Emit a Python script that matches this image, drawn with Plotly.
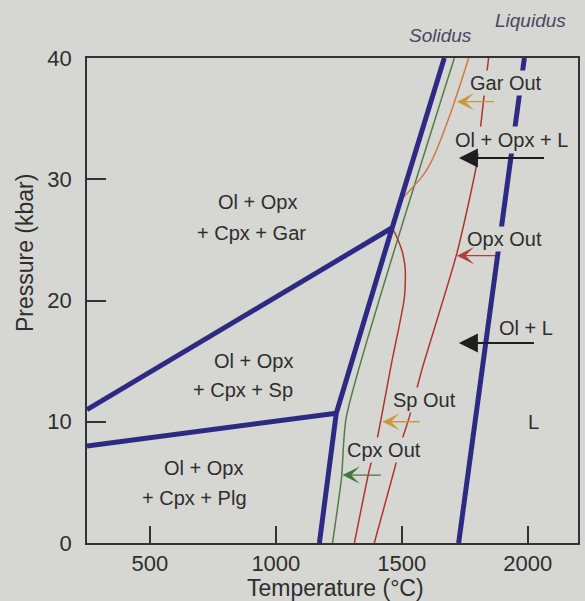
import plotly.graph_objects as go

# ---------------- data (Temperature °C, Pressure kbar) ----------------
solidus_T = [1173, 1240, 1462, 1669]
solidus_P = [0, 10.7, 26.0, 40]

gar_sp_T = [250, 1462]
gar_sp_P = [11.0, 26.0]

sp_plg_T = [250, 1240]
sp_plg_P = [8.0, 10.7]

liquidus_T = [1726, 1987]
liquidus_P = [0, 40]

cpx_out_T = [1225, 1261, 1280, 1709]
cpx_out_P = [0, 5.4, 10.4, 40]

gar_out_T = [1489, 1584, 1621, 1695, 1766]
gar_out_P = [28.1, 30.3, 31.6, 35.5, 40]

sp_out_T = [1462, 1481, 1501, 1513, 1513, 1509, 1489, 1462, 1399, 1371, 1312]
sp_out_P = [26.0, 25.2, 24.1, 22.8, 20.9, 20.0, 17.8, 15.1, 8.25, 6.0, 0]

opx_out_T = [1391, 1470, 1497, 1529, 1556, 1580, 1719, 1798, 1813, 1825, 1845]
opx_out_P = [0, 6.0, 8.25, 10.3, 12.4, 14.3, 23.9, 31.3, 34.3, 36.5, 40]

x_ticks = [500, 1000, 1500, 2000]
y_ticks = [0, 10, 20, 30, 40]

# field labels: text, T, P
field_text = ["Ol + Opx", "+ Cpx + Gar", "Ol + Opx", "+ Cpx + Sp", "Ol + Opx", "+ Cpx + Plg",
              "Ol + Opx + L", "Ol + L", "L"]
field_T = [926, 902, 910, 870, 712, 677, 1936, 1995, 2023]
field_P = [28.1, 25.6, 15.0, 12.6, 6.2, 3.7, 33.2, 17.7, 10.0]

# curve labels
curve_text = ["Gar Out", "Opx Out", "Sp Out", "Cpx Out"]
curve_T = [1916, 1908, 1592, 1428]
curve_P = [37.9, 25.1, 11.8, 7.7]

# boundary names above the frame: text, T, paper-y
boundary_text = ["<i>Solidus</i>", "<i>Liquidus</i>"]
boundary_T = [1655, 2011]
boundary_y = [1.047, 1.078]

# arrows: tip T, tail T, P, colour key
arrow_tip_T = [1719, 1727, 1719, 1727, 1423, 1265]
arrow_tail_T = [1873, 2071, 1877, 2031, 1577, 1423]
arrow_P = [36.4, 31.75, 23.7, 16.5, 10.0, 5.6]
arrow_kind = ["tan", "black", "red", "black", "tan", "green"]

BG = "#d6d6d3"
BLUE = "#2e2a84"
GREEN = "#4f7f46"
ORANGE = "#cf7a4a"
RED = "#b0352c"
TXT = "#2e2e2e"
FONT = "Liberation Sans, Arial, sans-serif"
arrow_colors = {"tan": "#c9983f", "black": "#1e1e1e", "red": "#b0403a", "green": "#3f7a3a"}

fig = go.Figure()

def add_line(T, P, color, width, shape="linear"):
    fig.add_trace(go.Scatter(x=T, y=P, mode="lines",
                             line=dict(color=color, width=width, shape=shape, smoothing=0.6),
                             hoverinfo="skip", showlegend=False))

add_line(cpx_out_T, cpx_out_P, GREEN, 1.5, "spline")
add_line(gar_out_T, gar_out_P, ORANGE, 1.5, "spline")
add_line(sp_out_T, sp_out_P, RED, 1.5, "spline")
add_line(opx_out_T, opx_out_P, RED, 1.5, "spline")
add_line(gar_sp_T, gar_sp_P, BLUE, 5)
add_line(sp_plg_T, sp_plg_P, BLUE, 5)
add_line(solidus_T, solidus_P, BLUE, 5)
add_line(liquidus_T, liquidus_P, BLUE, 5)

annotations = []
# curve labels (with background to break lines underneath)
for t, x, y in zip(curve_text, curve_T, curve_P):
    annotations.append(dict(x=x, y=y, xref="x", yref="y", text=t, showarrow=False,
                            font=dict(family=FONT, size=20, color=TXT),
                            bgcolor=BG, borderpad=1))
for t, x, y in zip(field_text, field_T, field_P):
    annotations.append(dict(x=x, y=y, xref="x", yref="y", text=t, showarrow=False,
                            font=dict(family=FONT, size=20, color=TXT),
                            bgcolor=BG if t == "Ol + Opx + L" else None, borderpad=2))
# arrows
for tip, tail, p, k in zip(arrow_tip_T, arrow_tail_T, arrow_P, arrow_kind):
    if k == "black":
        annotations.append(dict(x=tip, y=p, ax=tail, ay=p, xref="x", yref="y",
                                axref="x", ayref="y", text="", showarrow=True,
                                arrowhead=2, arrowsize=1.9, arrowwidth=2,
                                arrowcolor=arrow_colors[k], standoff=0))
    else:
        annotations.append(dict(x=tip, y=p, ax=tail, ay=p, xref="x", yref="y",
                                axref="x", ayref="y", text="", showarrow=True,
                                arrowhead=3, arrowsize=2.2, arrowwidth=1.3,
                                arrowcolor=arrow_colors[k], standoff=0))
# Solidus / Liquidus labels above the frame
for t, x, y in zip(boundary_text, boundary_T, boundary_y):
    annotations.append(dict(x=x, y=y, xref="x", yref="paper", text=t, showarrow=False,
                            xanchor="center", yanchor="middle",
                            font=dict(family=FONT, size=19, color="#4a4860")))
# axis titles
annotations.append(dict(x=-0.126, y=0.598, xref="paper", yref="paper", text="Pressure (kbar)",
                        textangle=-90, showarrow=False, xanchor="center", yanchor="middle",
                        font=dict(family=FONT, size=23, color=TXT)))
annotations.append(dict(x=0.507, y=-0.093, xref="paper", yref="paper", text="Temperature (°C)",
                        showarrow=False, xanchor="center", yanchor="middle",
                        font=dict(family=FONT, size=23, color=TXT)))

fig.update_layout(
    width=585, height=601,
    margin=dict(l=87, r=5, t=58, b=58),
    paper_bgcolor=BG, plot_bgcolor=BG,
    showlegend=False,
    annotations=annotations,
    font=dict(family=FONT, color=TXT),
)
fig.update_xaxes(range=[250, 2200], tickvals=x_ticks, ticks="inside", ticklen=17,
                 tickwidth=1.5, tickcolor="#333", showline=True, linecolor="#333",
                 linewidth=1.5, mirror=True, showgrid=False, zeroline=False,
                 tickfont=dict(family=FONT, size=22, color=TXT), ticklabelstandoff=0)
fig.update_yaxes(range=[0, 40], tickvals=y_ticks, ticks="inside", ticklen=19,
                 tickwidth=1.5, tickcolor="#333", showline=True, linecolor="#333",
                 linewidth=1.5, mirror=True, showgrid=False, zeroline=False,
                 tickfont=dict(family=FONT, size=22, color=TXT), ticklabelstandoff=9)

fig.write_html("out.html", config={"displayModeBar": False},
               post_script="document.body.style.margin='0';document.body.style.background='%s';" % BG)
